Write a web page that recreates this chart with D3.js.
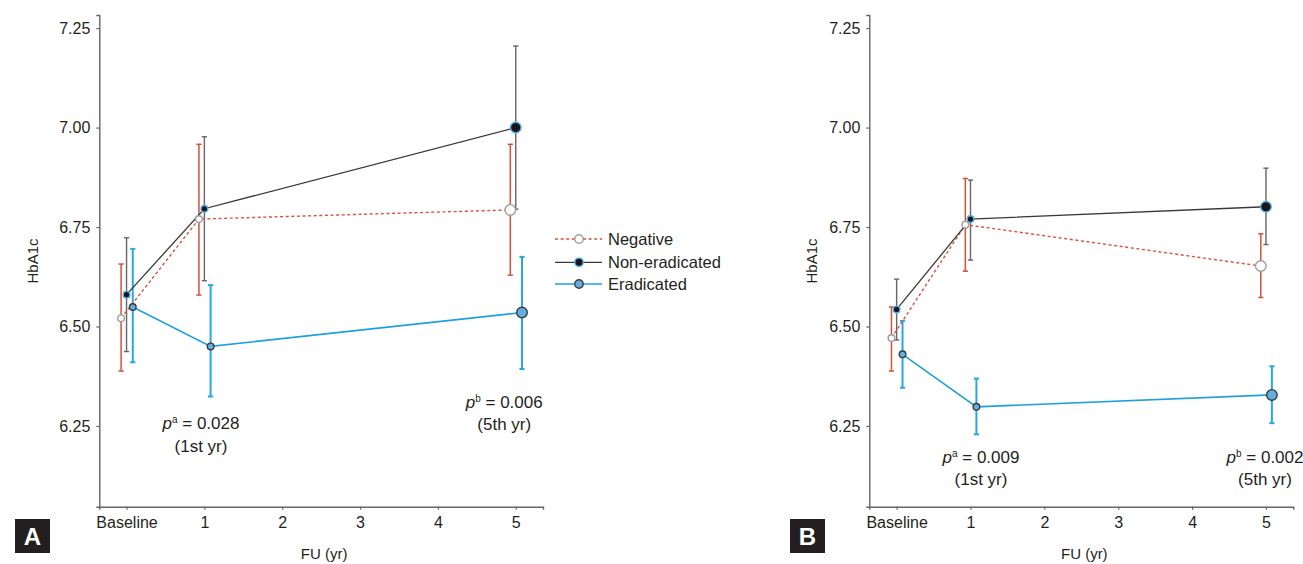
<!DOCTYPE html>
<html>
<head>
<meta charset="utf-8">
<script src="https://cdn.jsdelivr.net/npm/d3@7"></script>
<style>
  html, body { margin: 0; padding: 0; background: #fff; }
  svg { display: block; font-family: "Liberation Sans", Arial, sans-serif; }
</style>
</head>
<body>
<svg id="chart" width="1303" height="564"></svg>
<script>
// x axis labels and the time points that have data
const timeTicks = [0, 1, 2, 3, 4, 5];
const timeLabels = ["Baseline", "1", "2", "3", "4", "5"];
const timepoints = [0, 1, 5];
const yTicks = [6.25, 6.50, 6.75, 7.00, 7.25];
const seriesNames = ["Negative", "Non-eradicated", "Eradicated"];

// panel A: mean, lower and upper error bar
const aNegMean = [6.521, 6.770, 6.793];
const aNegLow  = [6.388, 6.579, 6.629];
const aNegHigh = [6.657, 6.958, 6.958];
const aNonMean = [6.580, 6.796, 7.000];
const aNonLow  = [6.437, 6.615, 6.795];
const aNonHigh = [6.723, 6.977, 7.205];
const aEraMean = [6.549, 6.450, 6.535];
const aEraLow  = [6.410, 6.324, 6.393];
const aEraHigh = [6.695, 6.604, 6.675];

// panel B
const bNegMean = [6.471, 6.756, 6.652];
const bNegLow  = [6.388, 6.639, 6.573];
const bNegHigh = [6.549, 6.872, 6.733];
const bNonMean = [6.543, 6.770, 6.801];
const bNonLow  = [6.466, 6.667, 6.706];
const bNonHigh = [6.619, 6.868, 6.898];
const bEraMean = [6.430, 6.298, 6.328];
const bEraLow  = [6.346, 6.229, 6.257];
const bEraHigh = [6.514, 6.369, 6.400];

// p value notes
const aNotes = [["a", "0.028", "(1st yr)"], ["b", "0.006", "(5th yr)"]];
const bNotes = [["a", "0.009", "(1st yr)"], ["b", "0.002", "(5th yr)"]];

const styles = [
  { line: "#d9503c", dash: "3,2.6", lw: 1.4, err: "#d4513b", ew: 1.5, fill: "#fff", stroke: "#9d9d9d", dx: -0.07 },
  { line: "#3d3638", dash: null, lw: 1.3, err: "#6b6365", ew: 1.4, fill: "#1c1517", stroke: "#4fb0e6", dx: 0 },
  { line: "#1fa0dc", dash: null, lw: 1.6, err: "#2aa7e0", ew: 2, fill: "#62aee0", stroke: "#3b3b3b", dx: 0.08 }
];

const textColor = "#231f20";
const axisColor = "#6a6466";
const svg = d3.select("#chart");

function drawPanel(p) {
  const x = d3.scaleLinear().domain(p.xDomain).range(p.xRange);
  const y = d3.scaleLinear().domain([6.047, 7.283]).range([506.7, 15]);
  const g = svg.append("g");

  const xAxis = g.append("g")
    .attr("transform", `translate(0,${y.range()[0]})`)
    .call(d3.axisBottom(x).tickValues(timeTicks)
      .tickFormat((d, i) => timeLabels[i]).tickSizeOuter(0).tickSize(3).tickPadding(7));
  const yAxis = g.append("g")
    .attr("transform", `translate(${x.range()[0]},0)`)
    .call(d3.axisLeft(y).tickValues(yTicks).tickFormat(d3.format(".2f"))
      .tickSizeOuter(0).tickSize(3).tickPadding(6));
  [xAxis, yAxis].forEach(a => {
    a.select(".domain").attr("stroke", axisColor).attr("stroke-width", 1.4);
    a.selectAll(".tick line").attr("stroke", axisColor).attr("stroke-width", 1.2);
    a.selectAll(".tick text").attr("fill", textColor).attr("font-size", 16);
  });

  g.append("text").attr("x", (x.range()[0] + x.range()[1]) / 2 + 3).attr("y", 559)
    .attr("text-anchor", "middle").attr("font-size", 15).attr("fill", textColor).text("FU (yr)");
  g.append("text").attr("transform", `translate(${p.yTitleX},261) rotate(-90)`)
    .attr("text-anchor", "middle").attr("dy", "0.35em").attr("font-size", 15)
    .attr("fill", textColor).text("HbA1c");

  // panel letter
  g.append("rect").attr("x", p.boxX).attr("y", 519).attr("width", 35).attr("height", 34).attr("fill", textColor);
  g.append("text").attr("x", p.boxX + 17.5).attr("y", 536).attr("dy", "0.36em")
    .attr("text-anchor", "middle").attr("font-size", 24).attr("font-weight", "bold")
    .attr("fill", "#fff").text(p.letter);

  const series = p.series.map((s, k) => ({
    style: styles[k],
    pts: timepoints.map((t, i) => ({ t: t, m: s[0][i], lo: s[1][i], hi: s[2][i] }))
  }));

  // error bars
  series.forEach(s => {
    const eg = g.append("g").attr("stroke", s.style.err).attr("stroke-width", s.style.ew);
    s.pts.forEach(d => {
      const cx = x(d.t + s.style.dx);
      eg.append("line").attr("x1", cx).attr("x2", cx).attr("y1", y(d.lo)).attr("y2", y(d.hi));
      eg.append("line").attr("x1", cx - 2.6).attr("x2", cx + 2.6).attr("y1", y(d.lo)).attr("y2", y(d.lo));
      eg.append("line").attr("x1", cx - 2.6).attr("x2", cx + 2.6).attr("y1", y(d.hi)).attr("y2", y(d.hi));
    });
  });

  // lines
  const line = d3.line().x(d => d.x).y(d => d.y);
  series.forEach(s => {
    g.append("path")
      .attr("d", line(s.pts.map(d => ({ x: x(d.t + s.style.dx), y: y(d.m) }))))
      .attr("fill", "none").attr("stroke", s.style.line).attr("stroke-width", s.style.lw)
      .attr("stroke-dasharray", s.style.dash);
  });

  // markers
  series.forEach(s => {
    g.selectAll(null).data(s.pts).join("circle")
      .attr("cx", d => x(d.t + s.style.dx)).attr("cy", d => y(d.m))
      .attr("r", d => d.t === 5 ? 5.3 : 3.3)
      .attr("fill", s.style.fill).attr("stroke", s.style.stroke).attr("stroke-width", 1.4);
  });

  // p value notes
  p.notes.forEach((n, i) => {
    const pos = p.notePos[i];
    const t = g.append("text").attr("x", x(pos[0])).attr("y", pos[1])
      .attr("text-anchor", "middle").attr("font-size", 17).attr("fill", textColor);
    t.append("tspan").attr("font-style", "italic").text("p");
    t.append("tspan").attr("font-size", 10).attr("dy", -6).text(n[0]);
    t.append("tspan").attr("dy", 6).text(" = " + n[1]);
    g.append("text").attr("x", x(pos[0])).attr("y", pos[1] + 22.5)
      .attr("text-anchor", "middle").attr("font-size", 17).attr("fill", textColor).text(n[2]);
  });
}

drawPanel({
  letter: "A", boxX: 15, yTitleX: 33,
  xDomain: [-0.35, 5.35], xRange: [99.3, 543],
  series: [[aNegMean, aNegLow, aNegHigh], [aNonMean, aNonLow, aNonHigh], [aEraMean, aEraLow, aEraHigh]],
  notes: aNotes, notePos: [[0.956, 429], [4.852, 407.5]]
});

drawPanel({
  letter: "B", boxX: 790, yTitleX: 812,
  xDomain: [-0.37, 5.37], xRange: [869.3, 1293.3],
  series: [[bNegMean, bNegLow, bNegHigh], [bNonMean, bNonLow, bNonHigh], [bEraMean, bEraLow, bEraHigh]],
  notes: bNotes, notePos: [[1.142, 462.5], [4.987, 462.5]]
});

// legend
const legend = svg.append("g");
const legendY = [239, 262.3, 284];
seriesNames.forEach((name, k) => {
  const s = styles[k];
  legend.append("line").attr("x1", 555).attr("x2", 602).attr("y1", legendY[k]).attr("y2", legendY[k])
    .attr("stroke", s.line).attr("stroke-width", s.lw).attr("stroke-dasharray", s.dash);
  legend.append("circle").attr("cx", 579).attr("cy", legendY[k]).attr("r", 4.2)
    .attr("fill", s.fill).attr("stroke", s.stroke).attr("stroke-width", 1.4);
  legend.append("text").attr("x", 608).attr("y", legendY[k]).attr("dy", "0.36em")
    .attr("font-size", 16.5).attr("fill", textColor).text(name);
});
</script>
</body>
</html>
